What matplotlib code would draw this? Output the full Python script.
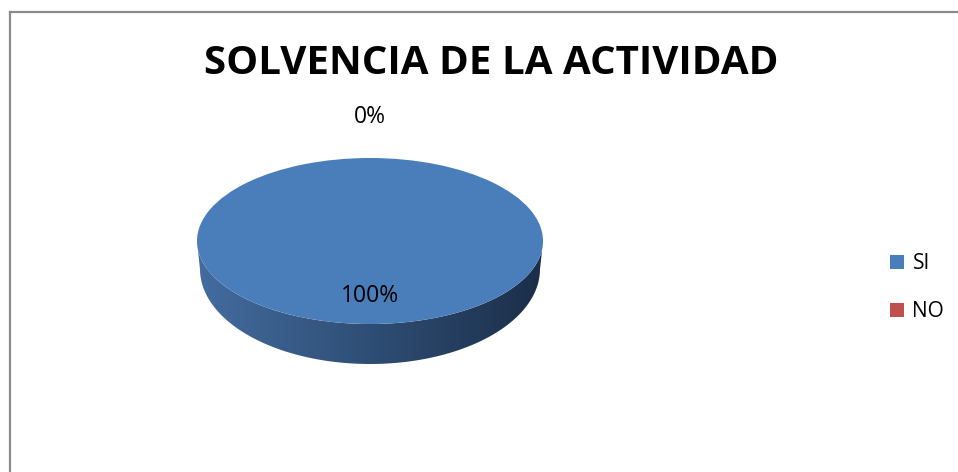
import numpy as np
import matplotlib
matplotlib.use("Agg")
import matplotlib.pyplot as plt
from matplotlib.patches import Polygon
from matplotlib.lines import Line2D
from matplotlib.colors import LinearSegmentedColormap

# ---- data ----
title = "SOLVENCIA DE LA ACTIVIDAD"
categories = ["SI", "NO"]
values = [100, 0]
pct_labels = ["100%", "0%"]
colors = ["#4a7ebb", "#c0504d"]

W, H = 958, 472
DPI = 100
fig = plt.figure(figsize=(W / DPI, H / DPI), dpi=DPI)
fig.patch.set_facecolor("white")

def fx(px):
    return px / W

def fy(py):
    return 1 - py / H

# chart-area border (top and left visible)
fig.add_artist(Line2D([fx(10), fx(958)], [fy(12), fy(12)], color="#8a8a8a", lw=1.6,
                      transform=fig.transFigure))
fig.add_artist(Line2D([fx(10), fx(10)], [fy(12), fy(472)], color="#8a8a8a", lw=1.6,
                      transform=fig.transFigure))

# ---- pie axes (ellipse via unequal scaling) ----
cx_px, cy_px = 370, 241
rx_px, ry_px = 173, 83
left_px, right_px = cx_px - rx_px, cx_px + rx_px
top_px, bot_px = 140, 390
ax = fig.add_axes([fx(left_px), fy(bot_px), (right_px - left_px) / W, (bot_px - top_px) / H])
ylim_top = (cy_px - top_px) / ry_px
ylim_bot = -(bot_px - cy_px) / ry_px

# side (3D depth) geometry in data units
depth_c = 28 / ry_px
ry_b = 95 / ry_px
rx_b = 170 / rx_px

# side gradient, clipped to the visible front of each wedge
total = sum(values)
start = 90.0
side_cmap = LinearSegmentedColormap.from_list("side", ["#436c9f", "#2f4e75", "#1b2e48"])
grad = np.linspace(0, 1, 256).reshape(1, -1)
ang = start
for v, c in zip(values, colors):
    sweep = 360.0 * v / total
    a0, a1 = ang - sweep, ang
    ang = a0
    if sweep <= 0:
        continue
    th = np.radians(np.linspace(a0, a1, 400))
    th = np.mod(th, 2 * np.pi)
    th = np.sort(th[(th >= np.pi) & (th <= 2 * np.pi)])
    if th.size < 2:
        continue
    topx, topy = np.cos(th), np.sin(th)
    botx, boty = rx_b * np.cos(th[::-1]), -depth_c + ry_b * np.sin(th[::-1])
    poly = Polygon(np.column_stack([np.r_[topx, botx], np.r_[topy, boty]]),
                   closed=True, facecolor="none", edgecolor="none")
    ax.add_patch(poly)
    im = ax.imshow(grad, extent=[-1, 1, ylim_bot, 0.1], cmap=side_cmap,
                   aspect="auto", interpolation="bilinear", zorder=1)
    im.set_clip_path(poly)

wedges, _ = ax.pie(values, colors=colors, startangle=start, counterclock=False,
                   radius=1, center=(0, 0), wedgeprops=dict(linewidth=0, zorder=2))
for w in wedges:
    w.set_zorder(2)

ax.set_aspect("auto")
ax.set_xlim(-1, 1)
ax.set_ylim(ylim_bot, ylim_top)
ax.axis("off")

# data labels
label_r = [0.665, 1.5]
ang = start
for v, lab, r in zip(values, pct_labels, label_r):
    sweep = 360.0 * v / total
    mid = np.radians(ang - sweep / 2)
    ang -= sweep
    ax.text(r * np.cos(mid), r * np.sin(mid), lab, ha="center", va="center",
            fontsize=16.5, family="Open Sans", color="black", zorder=5)

# legend
fig.legend(wedges, categories, loc="center left",
           bbox_to_anchor=(fx(890), fy(287.5)), frameon=False,
           prop=dict(family="Open Sans", size=15), handlelength=0.68,
           handleheight=0.68, handletextpad=0.4, labelspacing=1.3,
           borderpad=0, borderaxespad=0)

# title
t = fig.text(fx(491), fy(63), title, ha="center", va="center",
             fontsize=30, fontweight="bold", family="Open Sans")
fig.canvas.draw()
wpx = t.get_window_extent().width
t.set_fontsize(30 * 574 / wpx)

fig.savefig("out.png", dpi=DPI, facecolor="white")
